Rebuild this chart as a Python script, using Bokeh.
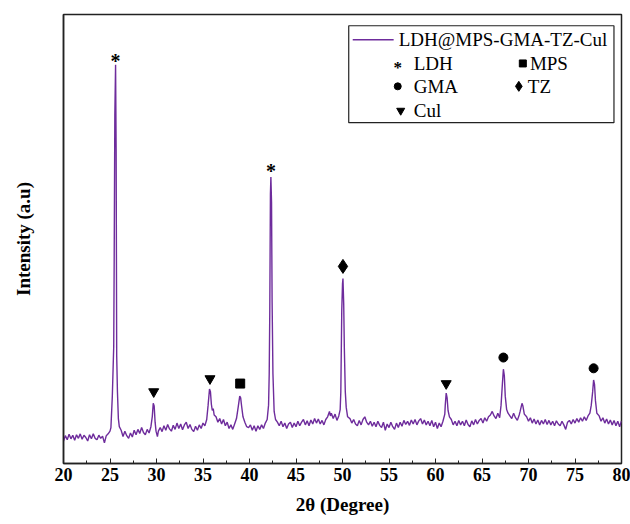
from bokeh.plotting import figure
from bokeh.models import FixedTicker, Range1d
from bokeh.core.properties import value
from bokeh.embed import file_html
from bokeh.resources import INLINE

# ---------------- data ----------------
two_theta = [
    20.0, 20.2, 20.4, 20.6, 20.8, 21.0, 21.2, 21.4, 21.6, 21.8, 22.0, 22.2, 22.4, 22.6, 22.8,
    23.0, 23.2, 23.4, 23.6, 23.8, 24.0, 24.2, 24.4, 24.6, 24.8, 25.0, 25.1, 25.25, 25.4, 25.45,
    25.52, 25.6, 25.66, 25.72, 25.8, 25.9, 26.0, 26.2, 26.4, 26.6, 26.8, 27.0, 27.2, 27.4, 27.6,
    27.8, 28.0, 28.2, 28.4, 28.6, 28.8, 29.0, 29.2, 29.4, 29.55, 29.65, 29.75, 29.85, 29.95, 30.1,
    30.2, 30.4, 30.6, 30.8, 31.0, 31.2, 31.4, 31.6, 31.8, 32.0, 32.2, 32.4, 32.6, 32.8, 33.0,
    33.2, 33.4, 33.6, 33.8, 34.0, 34.2, 34.4, 34.6, 34.8, 35.0, 35.2, 35.4, 35.55, 35.7, 35.8,
    35.9, 36.0, 36.1, 36.2, 36.4, 36.6, 36.8, 37.0, 37.2, 37.4, 37.6, 37.8, 38.0, 38.2, 38.4,
    38.6, 38.8, 38.95, 39.05, 39.15, 39.3, 39.5, 39.7, 39.9, 40.1, 40.3, 40.5, 40.7, 40.9, 41.1,
    41.3, 41.5, 41.7, 41.9, 42.05, 42.12, 42.18, 42.25, 42.3, 42.37, 42.43, 42.52, 42.65, 42.8, 43.0,
    43.2, 43.4, 43.6, 43.8, 44.0, 44.2, 44.4, 44.6, 44.8, 45.0, 45.2, 45.4, 45.6, 45.8, 46.0,
    46.2, 46.4, 46.6, 46.8, 47.0, 47.2, 47.4, 47.6, 47.8, 48.0, 48.2, 48.4, 48.6, 48.7, 48.8,
    49.0, 49.2, 49.4, 49.6, 49.75, 49.82, 49.92, 50.0, 50.05, 50.13, 50.2, 50.3, 50.4, 50.55, 50.8,
    51.0, 51.2, 51.4, 51.6, 51.8, 52.0, 52.2, 52.4, 52.6, 52.8, 53.0, 53.2, 53.4, 53.6, 53.8,
    54.0, 54.2, 54.4, 54.6, 54.8, 55.0, 55.2, 55.4, 55.6, 55.8, 56.0, 56.2, 56.4, 56.6, 56.8,
    57.0, 57.2, 57.4, 57.6, 57.8, 58.0, 58.2, 58.4, 58.6, 58.8, 59.0, 59.2, 59.4, 59.6, 59.8,
    60.0, 60.2, 60.4, 60.6, 60.8, 61.0, 61.05, 61.15, 61.25, 61.35, 61.5, 61.7, 61.9, 62.1, 62.3,
    62.5, 62.7, 62.9, 63.1, 63.3, 63.5, 63.7, 63.9, 64.1, 64.3, 64.5, 64.7, 64.9, 65.1, 65.3,
    65.5, 65.7, 65.9, 66.1, 66.3, 66.5, 66.7, 66.9, 67.05, 67.2, 67.3, 67.4, 67.5, 67.65, 67.8,
    68.0, 68.2, 68.4, 68.6, 68.8, 69.0, 69.1, 69.3, 69.4, 69.55, 69.8, 70.0, 70.2, 70.4, 70.6,
    70.8, 71.0, 71.2, 71.4, 71.6, 71.8, 72.0, 72.2, 72.4, 72.6, 72.8, 73.0, 73.2, 73.4, 73.6,
    73.8, 74.0, 74.2, 74.4, 74.6, 74.8, 75.0, 75.2, 75.4, 75.6, 75.8, 76.0, 76.2, 76.4, 76.6,
    76.75, 76.9, 77.0, 77.1, 77.2, 77.35, 77.6, 77.8, 78.0, 78.2, 78.4, 78.6, 78.8, 79.0, 79.2,
    79.4, 79.6, 79.8, 80.0,
]
intensity = [
    50, 62, 53, 65, 55, 63, 52, 64, 56, 66, 54, 63, 58, 50, 64,
    55, 66, 56, 53, 63, 56, 61, 46, 62, 66, 72, 80, 150, 260, 452,
    776, 888, 700, 240, 160, 100, 82, 74, 60, 72, 62, 56, 68, 59, 74,
    64, 76, 67, 80, 69, 64, 76, 68, 82, 105, 134, 128, 92, 72, 60,
    72, 80, 71, 84, 74, 87, 77, 72, 85, 76, 90, 78, 88, 75, 86,
    92, 78, 87, 76, 71, 83, 74, 86, 78, 90, 84, 98, 130, 166, 160,
    132, 118, 122, 108, 104, 92, 100, 88, 98, 84, 92, 78, 86, 76, 88,
    100, 128, 150, 146, 128, 104, 92, 82, 80, 86, 74, 84, 72, 84, 76,
    86, 78, 90, 98, 130, 200, 335, 600, 638, 582, 362, 200, 116, 98, 92,
    84, 94, 82, 90, 78, 88, 92, 80, 90, 82, 94, 84, 92, 98, 86,
    95, 84, 97, 88, 100, 90, 99, 88, 96, 86, 98, 104, 116, 106, 112,
    100, 110, 96, 106, 120, 160, 340, 400, 412, 356, 255, 160, 125, 104, 100,
    90, 98, 88, 84, 96, 86, 98, 104, 92, 86, 94, 83, 92, 82, 94,
    85, 80, 92, 74, 88, 80, 92, 82, 76, 90, 80, 92, 83, 96, 87,
    94, 85, 97, 88, 98, 86, 95, 100, 88, 97, 86, 94, 84, 96, 82,
    92, 78, 90, 82, 94, 110, 130, 157, 146, 118, 104, 98, 86, 94, 84,
    96, 86, 94, 84, 97, 87, 82, 95, 86, 98, 88, 96, 100, 90, 102,
    94, 104, 108, 116, 106, 100, 112, 102, 130, 180, 210, 196, 150, 120, 112,
    106, 100, 112, 102, 96, 108, 116, 134, 128, 110, 104, 94, 102, 90, 99,
    88, 97, 86, 96, 88, 98, 87, 96, 86, 94, 84, 95, 88, 84, 94,
    86, 76, 92, 96, 88, 98, 90, 100, 92, 102, 94, 104, 96, 106, 112,
    130, 160, 186, 176, 140, 112, 106, 94, 102, 90, 99, 88, 97, 86, 96,
    84, 94, 82, 95,
]
series_name = "LDH@MPS-GMA-TZ-Cul"

x_ticks = [20, 25, 30, 35, 40, 45, 50, 55, 60, 65, 70, 75, 80]
x_minor = [22.5, 27.5, 32.5, 37.5, 42.5, 47.5, 52.5, 57.5, 62.5, 67.5, 72.5, 77.5]

# phase markers above the peaks
ldh_x, ldh_y = [25.6, 42.3], [906, 661]
mps_x, mps_y = [39.0], [178]
gma_x, gma_y = [67.3, 77.0], [236, 212]
tz_x, tz_y = [50.05], [439]
cul_x, cul_y = [29.7, 35.75, 61.15], [160, 189, 178]
phase_labels = ["LDH", "MPS", "GMA", "TZ", "Cul"]

# ---------------- figure ----------------
SERIF = "Liberation Serif"
PURPLE = "#6E2C9C"

p = figure(width=630, height=524, x_range=Range1d(20, 80), y_range=Range1d(0, 1000),
           output_backend="svg", toolbar_location=None,
           min_border_left=63, min_border_right=9, min_border_top=14, min_border_bottom=61)
p.background_fill_color = "white"
p.border_fill_color = "white"
p.grid.visible = False
p.outline_line_color = "#222222"
p.outline_line_width = 1.5

xa = p.xaxis[0]
xa.ticker = FixedTicker(ticks=x_ticks, minor_ticks=x_minor)
xa.major_tick_in = 5
xa.major_tick_out = 0
xa.minor_tick_in = 3
xa.minor_tick_out = 0
xa.major_tick_line_color = "#222222"
xa.minor_tick_line_color = "#222222"
xa.axis_line_color = "#222222"
xa.axis_line_width = 1.5
xa.major_label_standoff = 4
xa.major_label_text_font = SERIF
xa.major_label_text_font_style = "bold"
xa.major_label_text_font_size = "18px"
xa.major_label_text_color = "black"
xa.axis_label = "2θ (Degree)"
xa.axis_label_text_font = SERIF
xa.axis_label_text_font_style = "bold"
xa.axis_label_text_font_size = "19px"
xa.axis_label_standoff = 10
xa.axis_label_text_color = "black"

ya = p.yaxis[0]
ya.ticker = FixedTicker(ticks=[])
ya.major_tick_line_color = None
ya.minor_tick_line_color = None
ya.major_label_text_font_size = "0px"
ya.axis_line_color = "#222222"
ya.axis_line_width = 1.5
ya.axis_label = "Intensity (a.u)"
ya.axis_label_text_font = SERIF
ya.axis_label_text_font_style = "bold"
ya.axis_label_text_font_size = "19px"
ya.axis_label_standoff = 30
ya.axis_label_text_color = "black"

# spectrum
p.line(two_theta, intensity, line_color=PURPLE, line_width=1.4)

# peak markers
p.text(ldh_x, ldh_y, text=["*"] * len(ldh_x), text_font=value(SERIF), text_font_style="bold",
       text_font_size="20px", text_align="center", text_baseline="middle", y_offset=4,
       text_color="black")
p.scatter(mps_x, mps_y, marker="square", size=9, color="black")
p.scatter(gma_x, gma_y, marker="circle", size=9, color="black")
p.scatter(tz_x, tz_y, marker="diamond", size=14, color="black")
p.scatter(cul_x, cul_y, marker="inverted_triangle", size=10, color="black")

# legend box (drawn by hand to match the two-column layout)
p.quad(left=[50.67], right=[79.19], bottom=[759], top=[975],
       fill_color="white", line_color="#222222", line_width=1.2)
p.line([51.1, 55.5], [944, 944], line_color=PURPLE, line_width=1.5)
p.text([56.05], [944], text=[series_name], text_font=value(SERIF), text_font_size="19px",
       text_baseline="middle", text_color="black")

sym_x = [55.94, 69.39, 55.94, 68.96, 56.26]
sym_y = [891, 891, 840, 840, 786]
lab_x = [57.66, 70.15, 57.66, 69.93, 57.66]
p.text([sym_x[0]], [sym_y[0]], text=["*"], text_font=value(SERIF), text_font_style="bold",
       text_font_size="17px", text_align="center", text_baseline="middle", y_offset=4,
       text_color="black")
p.scatter([sym_x[1]], [sym_y[1]], marker="square", size=7, color="black")
p.scatter([sym_x[2]], [sym_y[2]], marker="circle", size=7, color="black")
p.scatter([sym_x[3]], [sym_y[3]], marker="diamond", size=10, color="black")
p.scatter([sym_x[4]], [sym_y[4]], marker="inverted_triangle", size=8, color="black")
p.text(lab_x, sym_y, text=phase_labels, text_font=value(SERIF), text_font_size="19px",
       text_baseline="middle", text_color="black")

open("out.html", "w").write(file_html(p, INLINE))
